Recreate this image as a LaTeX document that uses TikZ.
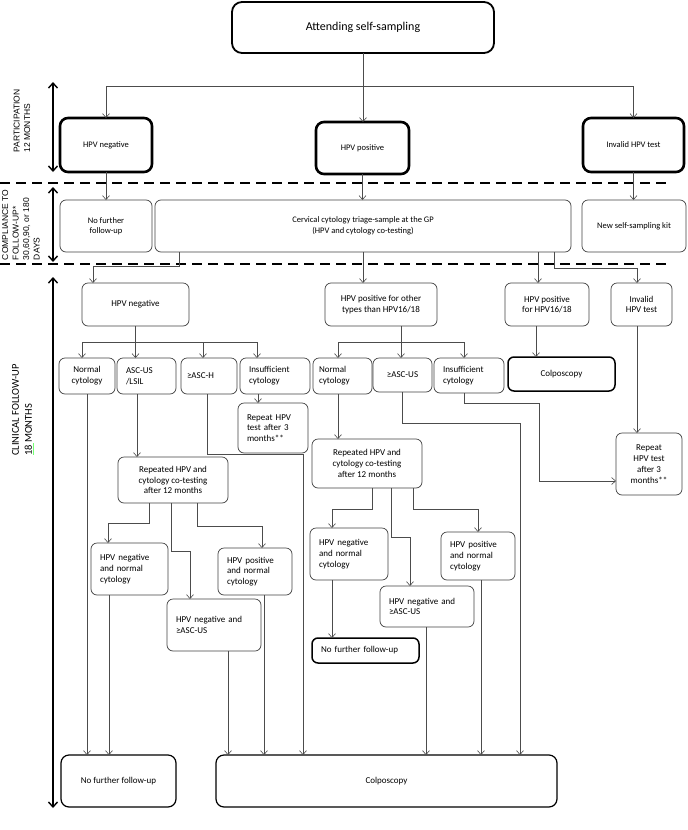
\documentclass[tikz,border=0pt]{standalone}
\usepackage{fontspec}
\setmainfont{Carlito}
\newfontfamily\capsfont{Liberation Sans}
\usetikzlibrary{arrows.meta}

\definecolor{boxline}{gray}{0.25}
\definecolor{wire}{gray}{0.3}

\begin{document}
\begin{tikzpicture}[x=1pt,y=-1pt,inner sep=0pt,outer sep=0pt,
    box/.style={draw=boxline, rounded corners=6pt, line width=0.7pt, anchor=north west, align=center, font=\fontsize{9}{10.8}\selectfont},
    heavy/.style={box, draw=black, line width=2.6pt, rounded corners=8pt},
    lbox/.style={box, align=left, inner xsep=9pt},
    small/.style={font=\fontsize{8.5}{10.5}\selectfont},
    arr/.style={draw=wire, line width=0.6pt, -{Straight Barb[length=4pt,width=7pt]}},
    span/.style={line width=1.4pt, {Straight Barb[length=5pt,width=9pt]}-{Straight Barb[length=5pt,width=9pt]}},
    phase/.style={line width=1.6pt, dash pattern=on 10pt off 6pt},
    sidelbl/.style={rotate=90, align=left, font=\capsfont\fontsize{8.5}{10.5}\selectfont}]
    \useasboundingbox (0,0) rectangle (688,830);

    % phases on the left
    \node[sidelbl] (lbl_part) at (22,121) {PARTICIPATION\\12 MONTHS};
    \node[sidelbl] (lbl_comp) at (21,225) {COMPLIANCE TO\\FOLLOW-UP*\\30,60,90, or 180\\DAYS};
    \node[sidelbl, font=\fontsize{10.5}{13}\selectfont] (lbl_clin) at (22,410) {CLINICAL FOLLOW-UP\\18 MONTHS};
    \draw[green!55!white, line width=0.7pt] (lbl_clin.south west) ++(1.5,-1) -- ++(0,-12);
    \coordinate (part_a) at (53,82);   \coordinate (part_b) at (53,172);
    \coordinate (comp_a) at (53,187);  \coordinate (comp_b) at (53,262);
    \coordinate (clin_a) at (53,277);  \coordinate (clin_b) at (53,808);
    \draw[span] (part_a) -- (part_b);
    \draw[span] (comp_a) -- (comp_b);
    \draw[span] (clin_a) -- (clin_b);
    \draw[phase] (0,183) -- (668,183);
    \draw[phase] (0,264) -- (668,264);

    % self-sampling result
    \node[box, draw=black, line width=1.8pt, rounded corners=10pt, minimum width=262, minimum height=51, font=\fontsize{12}{14}\selectfont] (top) at (232,2) {Attending self-sampling};
    \node[heavy, small, minimum width=92, minimum height=54] (neg1) at (60,118) {HPV negative};
    \node[heavy, small, minimum width=93, minimum height=52] (pos1) at (316,122) {HPV positive};
    \node[heavy, small, minimum width=101, minimum height=54] (inv1) at (583,118) {Invalid HPV test};

    % compliance
    \node[box, small, minimum width=92, minimum height=52] (nofu2) at (60,200) {No further\\follow-up};
    \node[box, small, minimum width=416, minimum height=52] (cerv) at (155,200) {Cervical cytology triage-sample at the GP\\(HPV and cytology co-testing)};
    \node[box, small, minimum width=104, minimum height=52] (kit) at (582,200) {New self-sampling kit};

    % triage results
    \node[box, minimum width=107, minimum height=43] (neg3) at (82,283) {HPV negative};
    \node[box, minimum width=112, minimum height=43] (oth3) at (325,283) {HPV positive for other\\types than HPV16/18};
    \node[box, minimum width=84, minimum height=43] (p16) at (505,283) {HPV positive\\for HPV16/18};
    \node[box, minimum width=61, minimum height=43] (inv3) at (611,283) {Invalid\\HPV test};

    \node[box, minimum width=56, minimum height=36] (norm4a) at (59,358) {Normal\\cytology};
    \node[lbox, text width=41pt, inner xsep=9pt, minimum height=36] (asc4a) at (117,358) {ASC-US\\/LSIL};
    \node[lbox, text width=44pt, inner xsep=6pt, minimum height=36] (asch4a) at (181,358) {≥ASC-H};
    \node[lbox, text width=52pt, inner xsep=9pt, minimum height=36] (ins4a) at (240,358) {Insufficient\\cytology};
    \node[lbox, text width=52pt, inner xsep=9pt, minimum height=50] (rep4a) at (238,403) {Repeat HPV\\test after 3\\months**};
    \node[box, minimum width=110, minimum height=46] (rep5a) at (118,457) {Repeated HPV and\\cytology co-testing\\after 12 months};
    \node[lbox, text width=59pt, minimum height=52] (hn6a) at (91,543) {HPV negative\\and normal\\cytology};
    \node[lbox, text width=56pt, minimum height=47] (hp6a) at (218,548) {HPV positive\\and normal\\cytology};
    \node[lbox, text width=76pt, minimum height=52] (hna7a) at (167,599) {HPV negative and\\≥ASC-US};

    \node[lbox, text width=47pt, inner xsep=6pt, minimum height=36] (norm4b) at (313,358) {Normal\\cytology};
    \node[box, minimum width=59, minimum height=34] (ascus4b) at (373,358) {≥ASC-US};
    \node[lbox, text width=52pt, inner xsep=9pt, minimum height=35] (ins4b) at (434,358) {Insufficient\\cytology};
    \node[box, draw=black, line width=1.5pt, minimum width=107, minimum height=34] (colp4) at (508,357) {Colposcopy};
    \node[box, minimum width=110, minimum height=49] (rep5b) at (312,439) {Repeated HPV and\\cytology co-testing\\after 12 months};
    \node[box, minimum width=66, minimum height=62] (rep4c) at (616,433) {Repeat\\HPV test\\after 3\\months**};
    \node[lbox, text width=60pt, minimum height=52] (hn6b) at (310,528) {HPV negative\\and normal\\cytology};
    \node[lbox, text width=56pt, minimum height=48] (hp6b) at (441,532) {HPV positive\\and normal\\cytology};
    \node[lbox, text width=76pt, minimum height=41] (hna7b) at (380,586) {HPV negative and\\≥ASC-US};
    \node[lbox, draw=black, line width=1.5pt, text width=89pt, minimum height=25] (nofu7b) at (312,638) {No further follow-up};

    % outcome
    \node[box, draw=black, line width=1.2pt, rounded corners=8pt, minimum width=115, minimum height=52] (nofuB) at (61,755) {No further follow-up};
    \node[box, draw=black, line width=1.2pt, rounded corners=8pt, minimum width=341, minimum height=52] (colpB) at (216,755) {Colposcopy};

    % connectors
    \draw[arr] (top.south) -- (top.south |- pos1.north);
    \draw[arr] (top.south |- 0,86) -| (neg1.north);
    \draw[arr] (top.south |- 0,86) -| (inv1.north);
    \draw[arr] (neg1.south) -- (nofu2.north);
    \draw[arr] (pos1.south) -- (pos1.south |- cerv.north);
    \draw[arr] (inv1.south) -- (inv1.south |- kit.north);

    \draw[arr] (cerv.south -| 179,0) -- (179,266) -| (neg3.north -| 93,0);
    \draw[arr] (cerv.south) -- (cerv.south |- oth3.north);
    \draw[arr] (cerv.south -| 538,0) -- (p16.north -| 538,0);
    \draw[arr] (cerv.south -| 554,0) -- (554,268) -| (inv3.north -| 637,0);

    \coordinate (negsplit) at (neg3.south |- 0,342);
    \draw[wire, line width=0.6pt] (neg3.south) -- (negsplit);
    \draw[arr] (negsplit) -| (norm4a.north -| 82,0);
    \draw[arr] (negsplit) -- (negsplit |- asc4a.north);
    \draw[arr] (negsplit) -| (asch4a.north -| 203,0);
    \draw[arr] (negsplit) -| (ins4a.north -| 257,0);
    \draw[arr] (ins4a.south -| 258,0) -- (rep4a.north -| 258,0);
    \draw[arr] (asc4a.south -| 137,0) -- (rep5a.north -| 137,0);
    \draw[arr] (norm4a.south) -- (norm4a.south |- nofuB.north);
    \draw[arr] (asch4a.south -| 207,0) -- (207,454) -| (colpB.north -| 303,0);

    \draw[arr] (rep5a.south -| 149,0) -- (149,523) -| (hn6a.north -| 108,0);
    \draw[arr] (rep5a.south -| 171,0) -- (171,551) -| (hna7a.north -| 190,0);
    \draw[arr] (rep5a.south -| 197,0) -- (197,526) -| (hp6a.north -| 262,0);
    \draw[arr] (hn6a.south -| 109,0) -- (nofuB.north -| 109,0);
    \draw[arr] (hp6a.south -| 264,0) -- (colpB.north -| 264,0);
    \draw[arr] (hna7a.south -| 228,0) -- (colpB.north -| 228,0);

    \coordinate (othsplit) at (401,342);
    \draw[wire, line width=0.6pt] (oth3.south -| othsplit) -- (othsplit);
    \draw[arr] (othsplit) -| (norm4b.north -| 338,0);
    \draw[arr] (othsplit) -- (othsplit |- ascus4b.north);
    \draw[arr] (othsplit) -| (ins4b.north -| 464,0);
    \draw[arr] (p16.south -| 536,0) -- (colp4.north -| 536,0);
    \draw[arr] (inv3.south -| 637,0) -- (rep4c.north -| 637,0);
    \draw[arr] (ins4b.south -| 464,0) -- (464,403) -| (539,481) -- (rep4c.west |- 0,481);
    \draw[arr] (ascus4b.south -| 402,0) -- (402,423) -| (colpB.north -| 520,0);
    \draw[arr] (norm4b.south -| 338,0) -- (rep5b.north -| 338,0);

    \draw[arr] (rep5b.south -| 372,0) -- (372,509) -| (hn6b.north -| 332,0);
    \draw[arr] (rep5b.south -| 391,0) -- (391,537) -| (hna7b.north -| 410,0);
    \draw[arr] (rep5b.south -| 413,0) -- (413,509) -| (hp6b.north -| 478,0);
    \draw[arr] (hn6b.south -| 332,0) -- (nofu7b.north -| 332,0);
    \draw[arr] (hna7b.south -| 426,0) -- (colpB.north -| 426,0);
    \draw[arr] (hp6b.south -| 481,0) -- (colpB.north -| 481,0);
\end{tikzpicture}
\end{document}
